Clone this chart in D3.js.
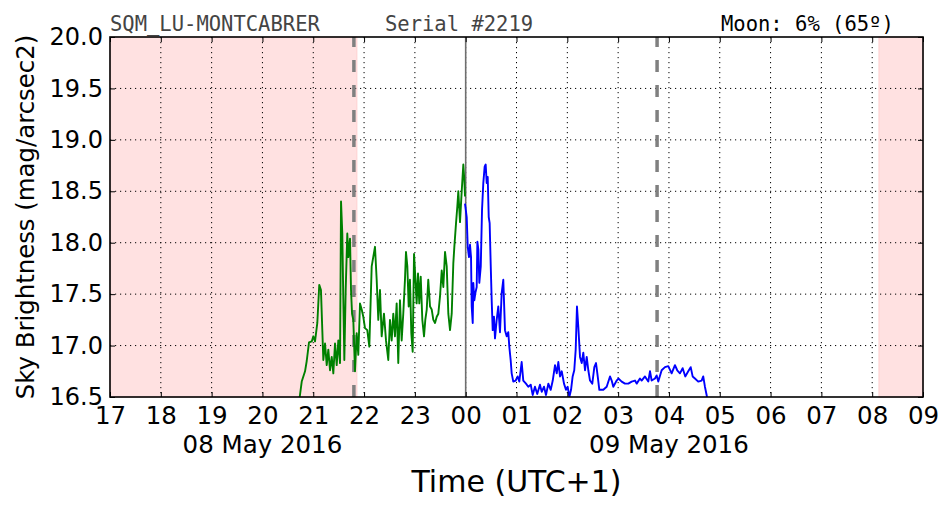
<!DOCTYPE html>
<html><head><meta charset="utf-8">
<script src="https://cdn.jsdelivr.net/npm/d3@7"></script>
<style>body{margin:0;background:#fff}svg{display:block}</style>
</head><body><svg id="c" width="952" height="512"></svg>
<script>
// minutes after 17:00 (08 May 2016, UTC+1)
const greenMinutes = [218,224,226.4,230.3,232.3,235,238.2,240.1,242.1,244.8,247.1,249.1,250.7,251.9,253.9,255.9,257.8,259.8,261.8,263.7,265.7,267.7,269.6,271.6,272.8,274.3,275.5,276.7,278.3,280.2,281.4,283.4,284.6,285.8,287.3,289.3,291.3,293.2,295.2,297.2,299.1,301.1,303.8,306.2,309,312.9,314.9,316.8,318.8,320.8,323.5,325.9,328.6,330.6,332.6,334.5,336.5,338.5,340.4,342.4,344.4,346.3,348.3,349.5,351.1,352.7,354.2,355.8,357.4,359,360.5,362.1,363.7,365.2,366.9,368.8,370.8,372.3,374,375.8,377.9,379.9,381.8,383.8,385.8,387.7,389.7,391.7,393.6,395.6,397.6,399.5,401.5,403.5,405.4,406.6,408.6,410.1,411.3,413.3,415.3,417.2,418.4,419.2];
const greenValues = [16.35,16.5,16.65,16.75,16.85,17.03,17.04,17.09,17.04,17.22,17.59,17.54,17.15,16.86,17.02,16.81,16.96,16.76,16.89,16.73,17.02,16.81,17.05,16.83,18.40,18.09,17.45,16.86,17.54,18.09,17.86,18.04,17.54,17.31,17.25,16.75,17.12,16.91,17.41,17.35,17.28,17.17,17.15,16.99,17.77,17.96,17.64,17.25,17.54,17.09,17.31,17.05,16.86,17.25,17.05,17.31,17.09,17.41,16.83,17.44,17.05,17.31,17.64,17.91,17.77,17.38,17.64,17.12,16.94,17.89,17.67,17.41,17.70,17.41,17.67,17.25,17.09,17.25,17.35,17.64,17.38,17.35,17.25,17.22,17.28,17.31,17.48,17.73,17.57,17.91,17.77,17.31,17.15,17.31,17.80,17.96,18.19,18.35,18.50,18.20,18.50,18.76,18.61,18.45];
const blueMinutes = [419.2,421.2,422.4,423.9,425.1,426.3,427.1,428.3,429,430.2,431.4,433,433.8,435,436.1,437.8,439.3,440.8,442.4,443.6,444.8,446,447.2,448.3,449.5,450.7,451.9,453.4,454.6,456.6,458.5,460.5,462.5,464.4,466.4,468.4,470.3,471.5,473.1,474.3,476.2,479,481.4,483.3,486.1,488,491.2,493.9,496.8,499.1,501.8,504.5,507.7,509.8,512.5,514.8,517.6,520.4,522.8,525.5,527.5,529.4,531.4,533.4,536.1,538.4,540.4,542.4,544.4,546.3,548.2,549.9,551.4,553,555,557,558.9,560.9,562.9,564.8,566.8,569.5,571.9,573.9,575.9,577.8,582.5,586.5,590.4,592.4,594.3,598.3,600.3,604.2,608.1,612,616,619.9,621.9,625.8,627.8,631.7,635.6,637.6,639.6,643.5,645.5,647.4,651.4,655.3,659.2,663.2,667.1,669.8,673,676.2,679.3,682.8,685.7,688,690.7,694.6,698.6,700.5,702.5,704.5,705.5];
const blueValues = [18.38,18.25,17.96,17.86,17.98,17.86,17.38,17.22,17.61,17.44,17.51,17.57,18.01,17.93,17.61,17.77,18.32,18.58,18.74,18.76,18.58,18.64,18.25,18.19,17.80,17.44,17.15,17.28,17.07,17.25,17.38,17.13,17.51,17.64,17.15,17.09,17.13,16.99,16.86,16.73,16.65,16.66,16.70,16.65,16.84,16.66,16.63,16.60,16.62,16.52,16.60,16.53,16.62,16.55,16.60,16.52,16.63,16.57,16.66,16.81,16.73,16.84,16.70,16.75,16.63,16.57,16.60,16.50,16.57,16.70,16.76,16.96,17.38,17.18,16.89,16.83,16.93,16.76,16.89,16.76,16.66,16.63,16.79,16.83,16.70,16.57,16.57,16.60,16.70,16.66,16.60,16.66,16.68,16.65,16.63,16.63,16.65,16.66,16.63,16.68,16.66,16.70,16.65,16.75,16.66,16.68,16.71,16.65,16.76,16.79,16.80,16.73,16.81,16.76,16.73,16.78,16.70,16.75,16.79,16.70,16.68,16.65,16.66,16.70,16.60,16.52,16.47];
const hourLabels = ["17","18","19","20","21","22","23","00","01","02","03","04","05","06","07","08","09"];
const yTicks = [16.5,17.0,17.5,18.0,18.5,19.0,19.5,20.0];
const nightSpans = [[0,291.5],[908,960]]; // pink (daylight/twilight) regions in minutes
const dashedMarks = [288, 646]; // sunset/sunrise markers
const midnight = 420;
const dateLabels = [{m:180,t:"08 May 2016"},{m:660,t:"09 May 2016"}];
const titleLeft = "SQM_LU-MONTCABRER", titleMid = "Serial #2219", titleRight = "Moon: 6% (65º)";

const svg = d3.select("#c");
const L=110, R=923, T=37, B=397;
const x = d3.scaleLinear().domain([0,960]).range([L,R]);
const y = d3.scaleLinear().domain([16.5,20]).range([B,T]);

svg.append("defs").append("clipPath").attr("id","clip").append("rect")
  .attr("x",L).attr("y",T).attr("width",R-L).attr("height",B-T);

svg.selectAll("rect.pink").data(nightSpans).enter().append("rect")
  .attr("x",d=>x(d[0])).attr("y",T).attr("width",d=>x(d[1])-x(d[0])).attr("height",B-T)
  .attr("fill","#ffe1e1").attr("stroke","#ffd0d0").attr("stroke-width",1);

const g = svg.append("g");
// grid
g.selectAll("line.vg").data(d3.range(1,16)).enter().append("line")
  .attr("x1",d=>x(d*60)).attr("x2",d=>x(d*60)).attr("y1",T).attr("y2",B)
  .attr("stroke","#000").attr("stroke-width",1).attr("stroke-dasharray","1.2,3.8");
g.selectAll("line.hg").data(yTicks.slice(1,-1)).enter().append("line")
  .attr("y1",d=>y(d)).attr("y2",d=>y(d)).attr("x1",L).attr("x2",R)
  .attr("stroke","#000").attr("stroke-width",1).attr("stroke-dasharray","1.2,3.8");

// midnight line
svg.append("line").attr("x1",x(midnight)).attr("x2",x(midnight)).attr("y1",B).attr("y2",T)
  .attr("stroke","#6e6e6e").attr("stroke-width",1.6);
// dashed markers
svg.selectAll("line.dm").data(dashedMarks).enter().append("line")
  .attr("x1",d=>x(d)).attr("x2",d=>x(d)).attr("y1",B).attr("y2",T)
  .attr("stroke","#808080").attr("stroke-width",3.5).attr("stroke-dasharray","12,13");

const line = d3.line().x(d=>x(d[0])).y(d=>y(d[1]));
const lg = svg.append("g").attr("clip-path","url(#clip)");
lg.append("path").datum(d3.zip(greenMinutes,greenValues)).attr("d",line)
  .attr("fill","none").attr("stroke","#008000").attr("stroke-width",1.9).attr("stroke-linejoin","round");
lg.append("path").datum(d3.zip(blueMinutes,blueValues)).attr("d",line)
  .attr("fill","none").attr("stroke","#0000ff").attr("stroke-width",1.9).attr("stroke-linejoin","round");

// axes
const xTickVals = d3.range(0,961,60);
const xAxis = d3.axisBottom(x).tickValues(xTickVals).tickFormat((d,i)=>hourLabels[i]).tickSizeInner(-5).tickSizeOuter(0).tickPadding(10);
const gx = svg.append("g").attr("transform",`translate(0,${B})`).call(xAxis);
gx.select(".domain").remove();
gx.selectAll("text").attr("font-family","DejaVu Sans").attr("font-size",24.5).attr("fill","#000");
const xTop = d3.axisTop(x).tickValues(xTickVals).tickFormat("").tickSizeInner(-5).tickSizeOuter(0);
const gxt = svg.append("g").attr("transform",`translate(0,${T})`).call(xTop);
gxt.select(".domain").remove();

const yAxis = d3.axisLeft(y).tickValues(yTicks).tickFormat(d3.format(".1f")).tickSizeInner(-5).tickSizeOuter(0).tickPadding(7);
const gy = svg.append("g").attr("transform",`translate(${L},0)`).call(yAxis);
gy.select(".domain").remove();
gy.selectAll("text").attr("font-family","DejaVu Sans").attr("font-size",24).attr("fill","#000");
const yR = d3.axisRight(y).tickValues(yTicks).tickFormat("").tickSizeInner(-5).tickSizeOuter(0);
const gyr = svg.append("g").attr("transform",`translate(${R},0)`).call(yR);
gyr.select(".domain").remove();

svg.append("rect").attr("x",L).attr("y",T).attr("width",R-L).attr("height",B-T)
  .attr("fill","none").attr("stroke","#000").attr("stroke-width",1.6);

// date labels
svg.selectAll("text.date").data(dateLabels).enter().append("text")
  .attr("x",d=>x(d.m)).attr("y",453).attr("text-anchor","middle")
  .attr("font-family","DejaVu Sans").attr("font-size",24.5).text(d=>d.t);

svg.append("text").attr("x",(L+R)/2).attr("y",492).attr("text-anchor","middle")
  .attr("font-family","DejaVu Sans").attr("font-size",30).text("Time (UTC+1)");

svg.append("text").attr("transform",`translate(34,${(T+B)/2}) rotate(-90)`).attr("text-anchor","middle")
  .attr("font-family","DejaVu Sans").attr("font-size",24.4).text("Sky Brightness (mag/arcsec2)");

svg.append("text").attr("x",110).attr("y",31).attr("font-family","DejaVu Sans Mono").attr("font-size",20.5).attr("fill","#444").text(titleLeft);
svg.append("text").attr("x",385).attr("y",31).attr("font-family","DejaVu Sans Mono").attr("font-size",20.5).attr("fill","#444").text(titleMid);
svg.append("text").attr("x",721).attr("y",31).attr("font-family","DejaVu Sans Mono").attr("font-size",20.5).attr("fill","#000").text(titleRight);
</script></body></html>
